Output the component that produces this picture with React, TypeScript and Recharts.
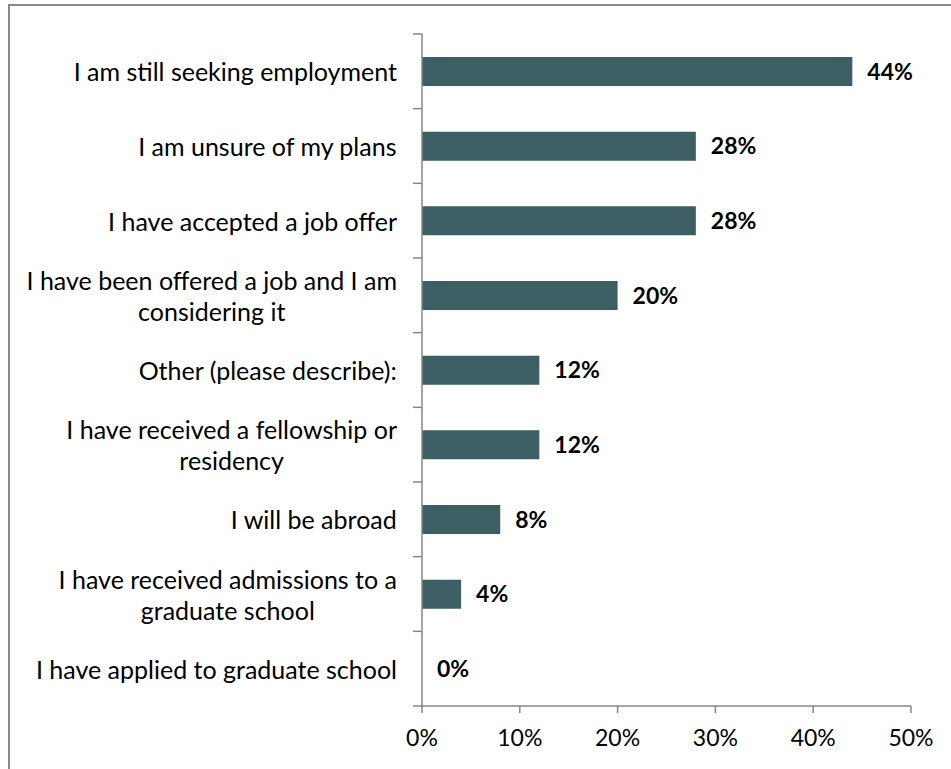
import { BarChart, Bar, XAxis, YAxis, LabelList } from "recharts";

const categories = [
  "I am still seeking employment",
  "I am unsure of my plans",
  "I have accepted a job offer",
  "I have been offered a job and I am\nconsidering it",
  "Other (please describe):",
  "I have received a fellowship or\nresidency",
  "I will be abroad",
  "I have received admissions to a\ngraduate school",
  "I have applied to graduate school",
];
const percentages = [44, 28, 28, 20, 12, 12, 8, 4, 0];
const xTicks = [0, 10, 20, 30, 40, 50];

const data = categories.map((label, i) => ({ label, value: percentages[i] }));

const W = 951;
const H = 769;
const TOP = 34;
const PLOT_BOTTOM = 706;
const AXIS_X = 422;
const RIGHT = 911;
const band = (PLOT_BOTTOM - TOP) / categories.length;
const FONT = "Lato, sans-serif";
const FS = 23;
const CAT_FS = 25;
const AXIS = "#878787";
const BAR = "#3d5e63";

let ctx: CanvasRenderingContext2D | null = null;
function measure(s: string) {
  if (!ctx) ctx = document.createElement("canvas").getContext("2d");
  if (!ctx) return s.length * CAT_FS * 0.5;
  ctx.font = `${CAT_FS}px Lato`;
  return ctx.measureText(s).width;
}

function CategoryTick({ y, payload, index }: any) {
  const lines = String(payload.value).split("\n");
  const block = Math.max(...lines.map(measure));
  const cx = AXIS_X - 25 - block / 2;
  const lh = 31;
  const y0 = y - ((lines.length - 1) * lh) / 2;
  return (
    <g>
      <line x1={AXIS_X - 9} x2={AXIS_X} y1={y - band / 2} y2={y - band / 2} stroke={AXIS} strokeWidth={1.5} />
      {index === categories.length - 1 && (
        <line x1={AXIS_X - 9} x2={AXIS_X} y1={y + band / 2} y2={y + band / 2} stroke={AXIS} strokeWidth={1.5} />
      )}
      <text x={cx} y={y0} textAnchor="middle" dominantBaseline="central" fill="#000" fontSize={CAT_FS} fontFamily={FONT}>
        {lines.map((l, i) => (
          <tspan key={i} x={cx} dy={i === 0 ? 0 : lh}>
            {l}
          </tspan>
        ))}
      </text>
    </g>
  );
}

export default function App() {
  return (
    <div style={{ position: "absolute", left: 0, top: 0, width: W, height: H, fontFamily: FONT, background: "#fff" }}>
      <div
        style={{
          position: "absolute",
          left: 8,
          top: 4,
          width: W - 8,
          height: H - 4,
          borderLeft: "2px solid #8a8a8a",
          borderTop: "2px solid #8a8a8a",
          boxSizing: "border-box",
        }}
      />
      <div style={{ position: "absolute", left: 0, top: 0 }}>
        <BarChart
          width={W}
          height={H}
          data={data}
          layout="vertical"
          margin={{ top: TOP, right: W - RIGHT, left: 0, bottom: 0 }}
        >
          <XAxis
            type="number"
            domain={[0, 50]}
            ticks={xTicks}
            tickFormatter={(v) => `${v}%`}
            height={H - PLOT_BOTTOM}
            stroke={AXIS}
            strokeWidth={1.5}
            tickSize={7}
            tickMargin={17}
            tick={{ fill: "#000", fontSize: FS, fontFamily: FONT }}
          />
          <YAxis
            type="category"
            dataKey="label"
            width={AXIS_X}
            interval={0}
            stroke={AXIS}
            strokeWidth={1.5}
            tickLine={false}
            tick={<CategoryTick />}
          />
          <Bar
            dataKey="value"
            fill={BAR}
            barSize={29}
            minPointSize={(v: any) => (v === 0 ? 0.01 : 0)}
            isAnimationActive={false}
          >
            <LabelList
              dataKey="value"
              position="right"
              offset={15}
              formatter={(v: any) => `${v}%`}
              fill="#000"
              fontWeight="bold"
              fontSize={FS}
              fontFamily={FONT}
            />
          </Bar>
        </BarChart>
      </div>
    </div>
  );
}
